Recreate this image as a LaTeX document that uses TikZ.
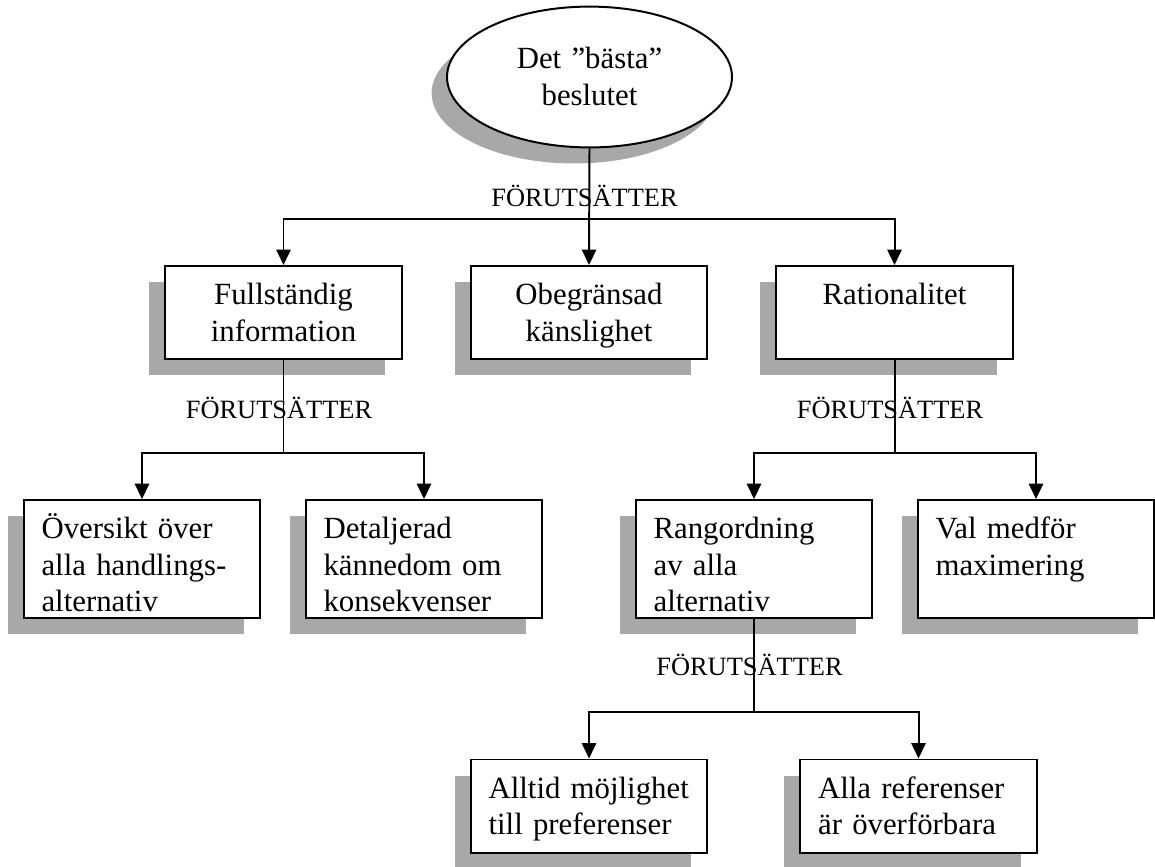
\documentclass[tikz,border=0pt]{standalone}
\usepackage{fontspec}
\setmainfont{Liberation Serif}
\usetikzlibrary{arrows.meta,shapes.geometric,shadows}
\definecolor{shadowGray}{RGB}{168,168,168}
\hyphenpenalty=10000

\begin{document}
\begin{tikzpicture}[x=0.4545pt,y=-0.4545pt,line width=0.9pt,
    arr/.style={-{Triangle[width=6.5pt,length=7pt]}},
    dropShade/.style={drop shadow={shadow xshift=-7.3pt,shadow yshift=-7.3pt,fill=shadowGray,opacity=1}},
    box/.style={draw,fill=white,dropShade,rectangle,inner xsep=8pt,inner ysep=0pt,
        text width=91.3pt,text height=17.7pt,text depth=24.6pt,
        font=\fontsize{14pt}{16.5pt}\selectfont},
    tallBox/.style={box,text depth=35.9pt},
    req/.style={font=\fontsize{12pt}{14pt}\selectfont,anchor=base,inner sep=0pt}]
    \useasboundingbox (0,0) rectangle (1155,866);

    % Top
    \node[ellipse,draw,fill=white,
        drop shadow={shadow xshift=-7pt,shadow yshift=-7.3pt,fill=shadowGray,opacity=1},
        minimum width=129.5pt,minimum height=64pt,inner sep=0pt,
        text width=82pt,text height=10pt,text depth=17.3pt,align=center,
        font=\fontsize{14pt}{16.5pt}\selectfont] (best) at (589.5,77) {Det ”bästa”\\beslutet};

    % First level
    \node[box,align=center] (fullInfo) at (283.5,312.5) {Fullständig\\information};
    \node[box,align=center] (obegr) at (589,312.5) {Obegränsad\\känslighet};
    \node[box,align=center] (ratio) at (894.5,312.5) {Rationalitet};

    % Second level
    \node[tallBox,align=left] (oversikt) at (142,559) {Översikt över\\alla handlings-\\alternativ};
    \node[tallBox,align=left] (detaljer) at (424,559) {Detaljerad\\kännedom om\\konsekvenser};
    \node[tallBox,align=left] (rangord) at (754,559) {Rangordning\\av alla\\alternativ};
    \node[tallBox,align=left] (valMax) at (1036,559) {Val medför\\maximering};

    % Third level
    \node[box,align=left] (alltid) at (589,806) {Alltid möjlighet\\till preferenser};
    \node[box,align=left] (allaRef) at (918.5,806) {Alla referenser\\är överförbara};

    % Connectors
    \coordinate (split1) at (589,219);
    \draw[arr] (best.south) -- (obegr.north);
    \draw[arr] (split1) -| (fullInfo.north);
    \draw[arr] (split1) -| (ratio.north);

    \coordinate (split2) at (283.5,453);
    \draw (fullInfo.south) -- (split2);
    \draw[arr] (split2) -| (oversikt.north);
    \draw[arr] (split2) -| (detaljer.north);

    \coordinate (split3) at (894.5,453);
    \draw (ratio.south) -- (split3);
    \draw[arr] (split3) -| (rangord.north);
    \draw[arr] (split3) -| (valMax.north);

    \coordinate (split4) at (754,712);
    \draw (rangord.south) -- (split4);
    \draw[arr] (split4) -| (alltid.north);
    \draw[arr] (split4) -| (allaRef.north);

    % Labels
    \node[req] (req1) at (584.5,206) {FÖRUTSÄTTER};
    \node[req] (req2) at (279,418) {FÖRUTSÄTTER};
    \node[req] (req3) at (890,418) {FÖRUTSÄTTER};
    \node[req] (req4) at (749.5,675) {FÖRUTSÄTTER};
\end{tikzpicture}
\end{document}
